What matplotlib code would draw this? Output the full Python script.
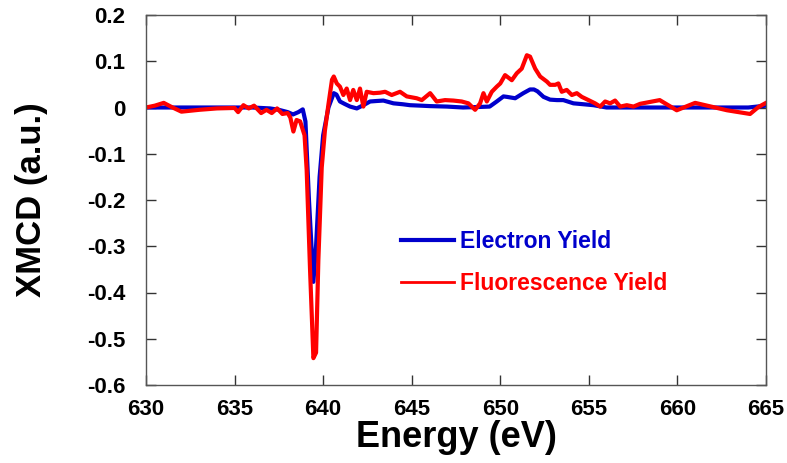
import matplotlib
matplotlib.use("Agg")
import matplotlib.pyplot as plt
from matplotlib.lines import Line2D

plt.rcParams['font.family'] = ['Liberation Sans', 'DejaVu Sans']

# Electron yield (blue)
E_ey = [630, 632, 634, 636, 637, 637.5, 638.0, 638.3, 638.6, 638.85, 639.0, 639.2,
        639.45, 639.6, 639.8, 640.0, 640.3, 640.6, 640.75, 640.95, 641.2, 641.52, 641.9,
        642.27, 642.65, 643.0, 643.4, 643.97, 644.5, 644.9, 645.5, 646.04, 646.98, 647.9,
        648.7, 649.4, 649.8, 650.18, 650.37, 650.84, 651.3, 651.68, 651.9, 652.1,
        652.44, 652.81, 653.2, 653.56, 654.13, 654.7, 655.26, 656.0, 657, 658, 660, 662, 664, 665]
XMCD_ey = [0, 0, 0, 0, -0.002, -0.005, -0.01, -0.015, -0.01, -0.004, -0.03, -0.2,
           -0.377, -0.3, -0.15, -0.06, 0.0, 0.031, 0.028, 0.013, 0.008, 0.002, -0.002,
           0.005, 0.013, 0.014, 0.015, 0.009, 0.007, 0.005, 0.004, 0.003, 0.002, 0.0,
           0.001, 0.002, 0.013, 0.024, 0.023, 0.02, 0.031, 0.039, 0.039, 0.035,
           0.023, 0.017, 0.016, 0.016, 0.009, 0.007, 0.005, 0.0, 0.0, 0.0, 0.0, 0.0, 0.0, 0.004]

# Fluorescence yield (red)
E_fy = [630, 630.5, 631.0, 631.5, 632.0, 633, 634, 635.0, 635.2, 635.5, 635.8, 636.1,
        636.5, 636.8, 637.1, 637.4, 637.7, 638.0, 638.15, 638.32, 638.5, 638.7, 638.95,
        639.07, 639.26, 639.45, 639.6, 639.73, 639.92, 640.1, 640.3, 640.5, 640.6,
        640.77, 640.95, 641.14, 641.33, 641.52, 641.7, 641.9, 642.08, 642.27, 642.46,
        642.84, 643.21, 643.5, 643.87, 644.34, 644.72, 645.28, 645.57, 646.04, 646.41,
        646.88, 647.35, 647.82, 648.2, 648.58, 648.86, 649.05, 649.24, 649.52, 649.8,
        650.0, 650.27, 650.65, 650.93, 651.21, 651.5, 651.68, 651.97, 652.25, 652.63,
        652.81, 653.1, 653.28, 653.47, 653.75, 654.04, 654.32, 654.6, 654.98, 655.35,
        655.64, 655.92, 656.2, 656.48, 656.77, 657.14, 657.52, 657.9, 659.0, 659.96,
        661.0, 662.8, 664.1, 664.57, 665]
XMCD_fy = [0, 0.004, 0.01, 0.0, -0.009, -0.005, -0.002, -0.001, -0.01, 0.005, -0.002, 0.004,
           -0.012, -0.005, -0.012, -0.002, -0.014, -0.012, -0.022, -0.052, -0.027, -0.03, -0.06,
           -0.135, -0.35, -0.542, -0.53, -0.33, -0.13, -0.05, 0.007, 0.06, 0.067,
           0.052, 0.045, 0.027, 0.041, 0.016, 0.038, 0.016, 0.041, 0.002, 0.034,
           0.031, 0.032, 0.034, 0.027, 0.034, 0.024, 0.02, 0.016, 0.031, 0.013,
           0.016, 0.015, 0.013, 0.009, -0.005, 0.009, 0.031, 0.013, 0.034, 0.045,
           0.052, 0.07, 0.059, 0.074, 0.084, 0.113, 0.110, 0.084, 0.067, 0.056,
           0.049, 0.049, 0.052, 0.034, 0.038, 0.027, 0.031, 0.023, 0.016, 0.009,
           0.002, 0.013, 0.009, 0.015, 0.002, 0.005, 0.002, 0.008, 0.016, -0.006,
           0.01, -0.006, -0.014, 0.001, 0.01]

x_ticks = [630, 635, 640, 645, 650, 655, 660, 665]
y_ticks = [-0.6, -0.5, -0.4, -0.3, -0.2, -0.1, 0, 0.1, 0.2]
y_ticklabels = ['-0.6', '-0.5', '-0.4', '-0.3', '-0.2', '-0.1', '0', '0.1', '0.2']
labels = ['Electron Yield', 'Fluorescence Yield']

BLUE = '#0000cc'
RED = '#ff0000'

fig = plt.figure(figsize=(7.87, 4.63), dpi=100)
ax = fig.add_axes([146/787, 1 - 385/463, 620/787, 370/463])

ax.plot(E_ey, XMCD_ey, color=BLUE, lw=3.0, solid_joinstyle='round')
ax.plot(E_fy, XMCD_fy, color=RED, lw=3.0, solid_joinstyle='round')

ax.set_xlim(630, 665)
ax.set_ylim(-0.6, 0.2)
ax.set_xticks(x_ticks)
ax.set_xticklabels([str(t) for t in x_ticks])
ax.set_yticks(y_ticks)
ax.set_yticklabels(y_ticklabels)

for s in ax.spines.values():
    s.set_color('#555555')
    s.set_linewidth(1.0)

ax.tick_params(direction='in', length=7, width=1, color='#333333',
               top=True, right=True, labelsize=16)
ax.tick_params(axis='y', pad=15)
ax.tick_params(axis='x', pad=10)
for lab in ax.get_xticklabels() + ax.get_yticklabels():
    lab.set_fontweight('bold')

ax.set_xlabel('Energy (eV)', fontsize=26, fontweight='bold', labelpad=0)
ax.set_ylabel('XMCD (a.u.)', fontsize=25, fontweight='bold', labelpad=28)

handles = [Line2D([], [], color=BLUE, lw=3.0), Line2D([], [], color=RED, lw=2.0)]
leg = ax.legend(handles, labels, loc='center left', bbox_to_anchor=(0.411, 0.331),
                frameon=False, borderaxespad=0, borderpad=0, handlelength=2.3,
                handletextpad=0.3, labelspacing=0.8,
                prop={'size': 16.5, 'weight': 'bold'})
for txt, c in zip(leg.get_texts(), [BLUE, RED]):
    txt.set_color(c)

fig.savefig('out.png', dpi=100)
